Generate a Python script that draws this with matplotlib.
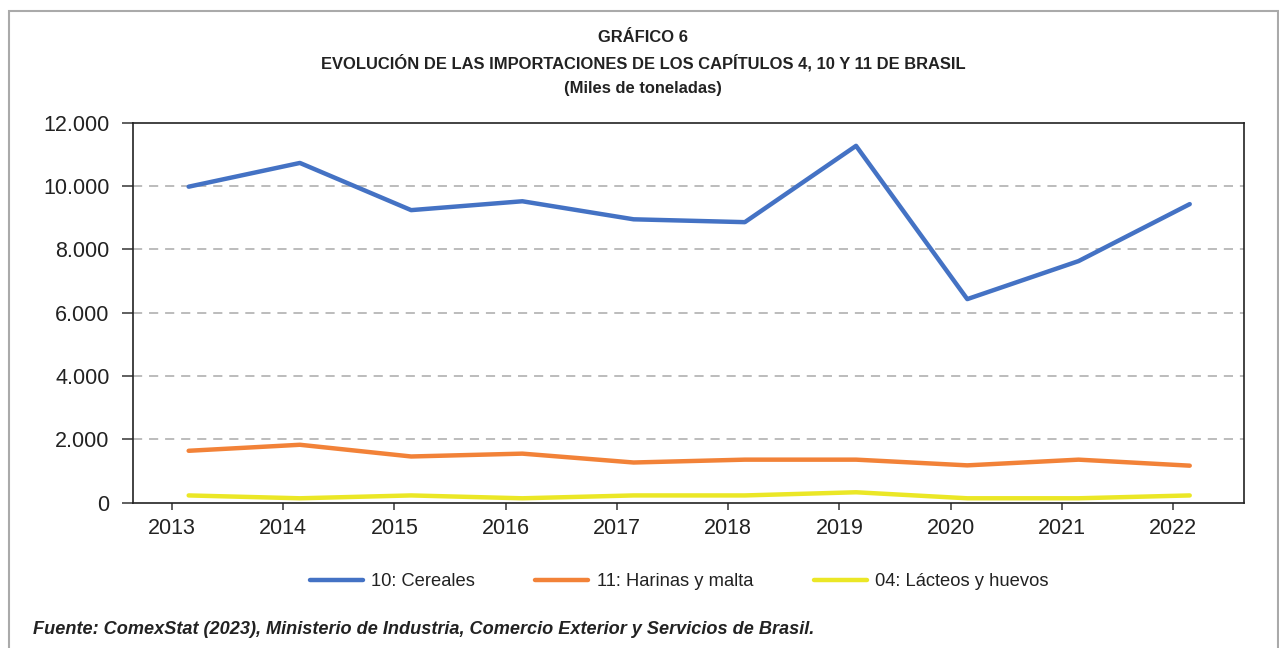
import matplotlib
matplotlib.use('Agg')
import matplotlib.pyplot as plt
import numpy as np
from matplotlib.patches import Rectangle

plt.rcParams['font.family'] = ['Liberation Sans', 'DejaVu Sans']

# datos (miles de toneladas)
years = [2013, 2014, 2015, 2016, 2017, 2018, 2019, 2020, 2021, 2022]
cereales = [9980, 10730, 9240, 9520, 8950, 8860, 11270, 6430, 7630, 9430]
harinas = [1640, 1830, 1460, 1550, 1270, 1360, 1360, 1180, 1360, 1170]
lacteos = [230, 140, 230, 140, 230, 230, 330, 140, 140, 230]
labels = ["10: Cereales", "11: Harinas y malta", "04: Lácteos y huevos"]
colors = ["#4472C4", "#F28238", "#EBE726"]
yticks = [0, 2000, 4000, 6000, 8000, 10000, 12000]
ytick_labels = ["0", "2.000", "4.000", "6.000", "8.000", "10.000", "12.000"]

fig = plt.figure(figsize=(12.79, 6.48), dpi=100)
ax = fig.add_axes([0.1042, 0.2242, 0.8688, 0.5864])

# los puntos van algo desplazados respecto a la marca del ano
xpos = np.array(years) + 0.15
for serie, lab, col in zip([cereales, harinas, lacteos], labels, colors):
    ax.plot(xpos, serie, color=col, lw=3.2, label=lab, solid_capstyle='round',
            solid_joinstyle='round')

ax.set_xlim(2012.652, 2022.642)
ax.set_ylim(0, 12000)
ax.set_xticks(years)
ax.set_xticklabels([str(y) for y in years])
ax.set_yticks(yticks)
ax.set_yticklabels(ytick_labels)
ax.tick_params(axis='y', length=8, width=1.2, pad=9, labelsize=15.5,
               color='#444444', labelcolor='#222222')
ax.tick_params(axis='x', length=5.3, width=1.2, pad=6, labelsize=15.5,
               color='#444444', labelcolor='#222222')
for s in ax.spines.values():
    s.set_linewidth(1.2)
    s.set_color('#222222')

for v in yticks[1:-1]:
    ax.axhline(v, color='#AAAAAA', lw=1.1, ls=(0, (6, 4.5)), zorder=0)

title_kw = dict(ha='center', va='center', fontsize=11.9, fontweight='bold',
                color='#222222')
fig.text(0.5027, 1 - 38 / 648, "GRÁFICO 6", **title_kw)
fig.text(0.5027, 1 - 63 / 648,
         "EVOLUCIÓN DE LAS IMPORTACIONES DE LOS CAPÍTULOS 4, 10 Y 11 DE BRASIL",
         **title_kw)
fig.text(0.5027, 1 - 89 / 648, "(Miles de toneladas)", **title_kw)

fig.legend(loc='center', bbox_to_anchor=(679 / 1279, 1 - 581.7 / 648), ncol=3,
           frameon=False, fontsize=13.2, handlelength=2.9, handletextpad=0.45,
           columnspacing=3.3, labelcolor='#222222')

fig.text(32.6 / 1279, 1 - 630 / 648,
         "Fuente: ComexStat (2023), Ministerio de Industria, Comercio Exterior y Servicios de Brasil.",
         ha='left', va='center', fontsize=13.05, fontweight='bold', fontstyle='italic',
         color='#222222')

# marco gris exterior
fig.patches.append(Rectangle((8.7 / 1279, -0.1), (1278 - 8.7) / 1279, 1.1 - 11 / 648,
                             transform=fig.transFigure, fill=False,
                             edgecolor='#AAAAAA', lw=1.5, clip_on=False))

fig.savefig('out.png', dpi=100)
